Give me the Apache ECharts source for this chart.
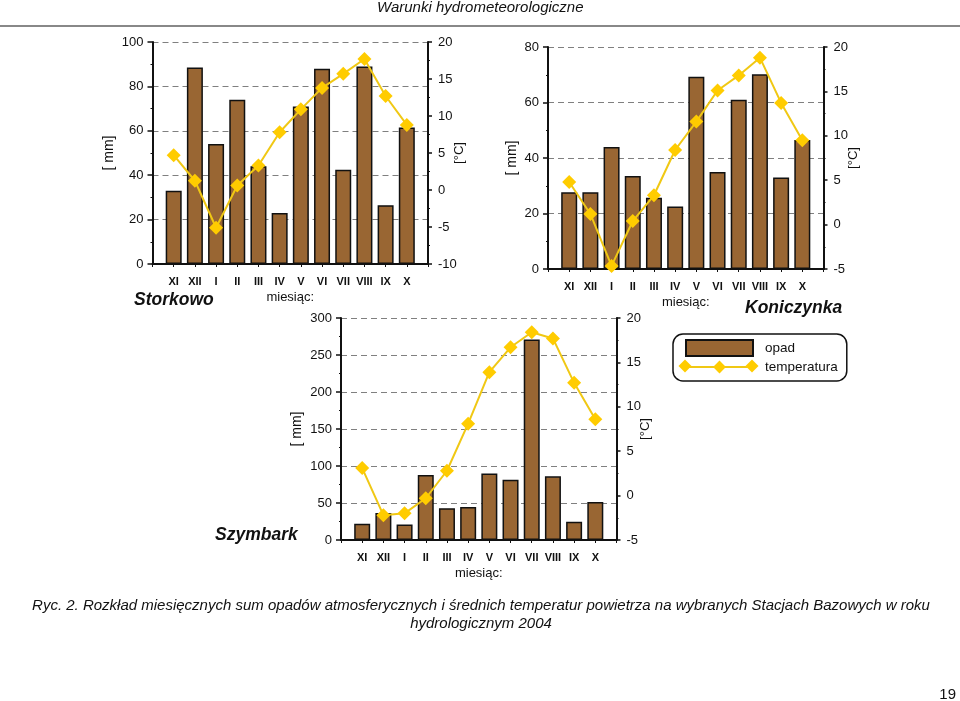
<!DOCTYPE html>
<html>
<head>
<meta charset="utf-8"/>
<title>Warunki hydrometeorologiczne</title>
<script src="https://cdn.jsdelivr.net/npm/echarts@6/dist/echarts.min.js"></script>
<style>
	html,body{margin:0;padding:0;background:#fff;}
	#main{width:960px;height:701px;}
</style>
</head>
<body>
<div id="main"></div>
<script type="text/javascript">
	var months = ['XI','XII','I','II','III','IV','V','VI','VII','VIII','IX','X'];

	var storkowoOpad = [33,88.5,54,74,44,23,71,88,42.5,89,26.5,61.5];
	var storkowoTemp = [4.7,1.25,-5.1,0.6,3.3,7.8,10.9,13.8,15.7,17.7,12.7,8.8];

	var koniczynkaOpad = [27.7,27.7,44,33.5,25.7,22.5,69.3,35,61,70.2,33,46.5];
	var koniczynkaTemp = [4.8,1.2,-4.65,0.4,3.3,8.4,11.6,15.1,16.8,18.8,13.7,9.5];

	var szymbarkOpad = [22,36.5,21,88,43,44.5,90,81.5,271,86,24.5,51.5];
	var szymbarkTemp = [3.1,-2.2,-2,-0.3,2.8,8.1,13.9,16.7,18.4,17.7,12.7,8.6];

	var font = '"Liberation Sans", Arial, sans-serif';
	var brown = '#996633';
	var yellow = '#ffcc00';
	var ink = '#111';

	var myChart = echarts.init(document.getElementById('main'));

	// empty slot on both ends, the bars do not touch the axes
	function pad(list,blank){
		return [blank].concat(list,[blank]);
	}

	// one panel = grid + category axis + two value axes + bar and line
	var panels = [
		{left:152.5,top:42,opad:storkowoOpad,temp:storkowoTemp,lmax:100,lint:20,rmin:-10,nameL:36,nameR:25},
		{left:548,top:47,opad:koniczynkaOpad,temp:koniczynkaTemp,lmax:80,lint:20,rmin:-5,nameL:29,nameR:23},
		{left:341,top:318,opad:szymbarkOpad,temp:szymbarkTemp,lmax:300,lint:50,rmin:-5,nameL:37,nameR:22}
	];

	var grids = [], xAxes = [], yAxes = [], series = [];
	panels.forEach(function(p,i){
		grids.push({left:p.left,top:p.top,width:275.5,height:222});
		xAxes.push({
			type:'category',gridIndex:i,data:pad(months,''),boundaryGap:false,
			name:'miesiąc:',nameLocation:'middle',nameGap:27,nameMoveOverlap:false,
			nameTextStyle:{color:ink,fontFamily:font,fontSize:13},
			axisLine:{onZero:false,lineStyle:{color:ink,width:2}},
			axisTick:{show:true,length:3,lineStyle:{color:ink,width:1}},
			axisLabel:{color:ink,fontFamily:font,fontSize:11,fontWeight:'bold',margin:12.5,interval:0,showMinLabel:true,showMaxLabel:true}
		});
		yAxes.push({
			type:'value',gridIndex:i,position:'left',min:0,max:p.lmax,interval:p.lint,
			name:'[ mm]',nameLocation:'middle',nameRotate:90,nameGap:p.nameL,nameMoveOverlap:false,
			nameTextStyle:{color:ink,fontFamily:font,fontSize:14},
			axisLine:{show:true,onZero:false,lineStyle:{color:ink,width:2}},
			axisTick:{show:true,length:5,lineStyle:{color:ink,width:1.5}},
			minorTick:{show:true,splitNumber:2,length:2,lineStyle:{color:ink,width:1}},
			axisLabel:{color:ink,fontFamily:font,fontSize:13,margin:9},
			splitLine:{show:true,lineStyle:{color:'#808080',type:[6,4],width:1}}
		});
		yAxes.push({
			type:'value',gridIndex:i,position:'right',min:p.rmin,max:20,interval:5,
			name:'[°C]',nameLocation:'middle',nameRotate:90,nameGap:p.nameR,nameMoveOverlap:false,
			nameTextStyle:{color:ink,fontFamily:font,fontSize:13},
			axisLine:{show:true,onZero:false,lineStyle:{color:ink,width:2}},
			axisTick:{show:true,length:4,lineStyle:{color:ink,width:1.5}},
			minorTick:{show:true,splitNumber:2,length:2,lineStyle:{color:ink,width:1}},
			axisLabel:{color:ink,fontFamily:font,fontSize:13,margin:10},
			splitLine:{show:false}
		});
		series.push({
			name:'opad',type:'bar',xAxisIndex:i,yAxisIndex:i*2,data:pad(p.opad,null),barWidth:16,
			itemStyle:{color:brown,borderColor:'#111',borderWidth:1.5}
		});
		series.push({
			name:'temperatura',type:'line',xAxisIndex:i,yAxisIndex:i*2+1,data:pad(p.temp,null),z:5,
			symbol:'diamond',symbolSize:14,
			itemStyle:{color:yellow},
			lineStyle:{color:'#f0c814',width:2}
		});
	});

	function label(x,y,text,size,style,weight,align){
		return {type:'text',x:x,y:y,style:{
			text:text,fill:ink,font:(style||'normal')+' '+(weight||'normal')+' '+size+'px '+font,
			textAlign:align||'left',textVerticalAlign:'middle'
		}};
	}
	function diamond(cx,cy){
		return {type:'polygon',z:20,shape:{points:[[cx-6.5,cy],[cx,cy-6.5],[cx+6.5,cy],[cx,cy+6.5]]},style:{fill:yellow}};
	}

	var option = {
		animation:false,
		backgroundColor:'#fff',
		grid:grids,xAxis:xAxes,yAxis:yAxes,series:series,
		legend:{
			left:673,top:334,orient:'vertical',
			padding:[5,9,7,12],itemGap:3,itemWidth:67,itemHeight:16,
			borderColor:'#111',borderWidth:1.5,borderRadius:10,
			data:[{name:'opad',icon:'rect'},{name:'temperatura'}],
			textStyle:{color:ink,fontFamily:font,fontSize:13.5,padding:[0,0,0,7]}
		},
		graphic:[
			{type:'line',shape:{x1:0,y1:26,x2:960,y2:26},style:{stroke:'#888',lineWidth:2}},
			label(377,8,'Warunki hydrometeorologiczne',15,'italic'),
			label(134,300,'Storkowo',17.5,'italic','bold'),
			label(745,308,'Koniczynka',17.5,'italic','bold'),
			label(215,535,'Szymbark',17.5,'italic','bold'),
			label(481,606,'Ryc. 2. Rozkład miesięcznych sum opadów atmosferycznych i średnich temperatur powietrza na wybranych Stacjach Bazowych w roku',15,'italic','normal','center'),
			label(481,624,'hydrologicznym 2004',15,'italic','normal','center'),
			label(956,695,'19',15,'normal','normal','right'),
			diamond(685,366),
			diamond(752,366)
		]
	};
	myChart.setOption(option);
</script>
</body>
</html>
